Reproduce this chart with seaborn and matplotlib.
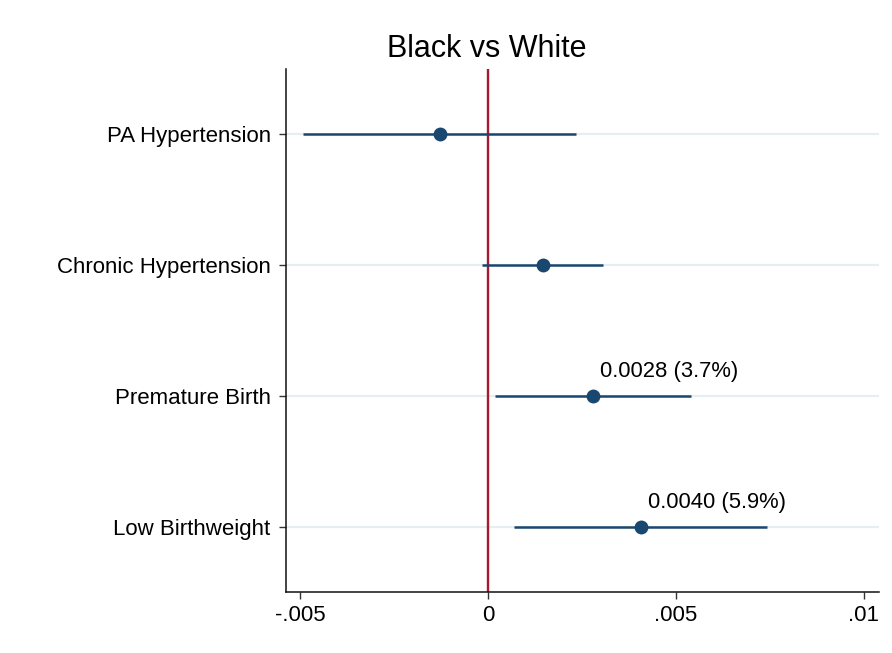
import matplotlib
matplotlib.use("Agg")
import matplotlib.pyplot as plt
import seaborn as sns
import pandas as pd

# ---- data ----
categories = ["PA Hypertension", "Chronic Hypertension", "Premature Birth", "Low Birthweight"]
estimates = [-0.00128, 0.00146, 0.00279, 0.00407]
ci_low = [-0.00492, -0.00016, 0.00019, 0.00069]
ci_high = [0.00234, 0.00306, 0.00540, 0.00742]
labels = ["", "", "0.0028 (3.7%)", "0.0040 (5.9%)"]
xticks = [-0.005, 0, 0.005, 0.01]
xticklabels = ["-.005", "0", ".005", ".01"]
title = "Black vs White"

df = pd.DataFrame({"category": categories, "est": estimates,
                   "lo": ci_low, "hi": ci_high, "label": labels})

sns.set_style("white")
plt.rcParams["font.family"] = ["Liberation Sans", "DejaVu Sans"]

navy = "#1a476f"
fig = plt.figure(figsize=(8.92, 6.53), dpi=100)
ax = fig.add_axes([0.3206, 0.0934, 0.6648, 0.8009])

ypos = list(range(len(categories)))
# grid lines
for y in ypos:
    ax.axhline(y, color="#e6eef1", lw=1.6, zorder=0)

ax.axvline(0, color="#a8182e", lw=1.7, zorder=1)
ax.hlines(ypos, df["lo"], df["hi"], color=navy, lw=1.8, zorder=2)
sns.scatterplot(x=df["est"], y=ypos, ax=ax, color=navy, s=100,
                edgecolor=navy, linewidth=0, zorder=3, legend=False)

for y, x, lab in zip(ypos, df["est"], df["label"]):
    if lab:
        ax.annotate(lab, (x, y), xytext=(5, 17.5), textcoords="offset points",
                    ha="left", va="center", fontsize=15.8, color="black")

ax.set_xlim(-0.00537, 0.0104)
ax.set_ylim(3.5, -0.5)
ax.set_yticks(ypos)
ax.set_yticklabels(categories)
ax.set_xticks(xticks)
ax.set_xticklabels(xticklabels)
ax.set_xlabel("")
ax.set_ylabel("")
ax.tick_params(axis="y", length=5, width=1, color="#333333", pad=6,
               labelsize=16, labelcolor="black", direction="out", left=True)
ax.tick_params(axis="x", length=5, width=1, color="#333333", pad=4,
               labelsize=16, labelcolor="black", direction="out", bottom=True)

for s in ["top", "right"]:
    ax.spines[s].set_visible(False)
for s in ["left", "bottom"]:
    ax.spines[s].set_color("#111111")
    ax.spines[s].set_linewidth(1.1)

fig.text(0.546, 0.925, title, ha="center", va="center", fontsize=22, color="black")

fig.savefig("out.png", dpi=100)
